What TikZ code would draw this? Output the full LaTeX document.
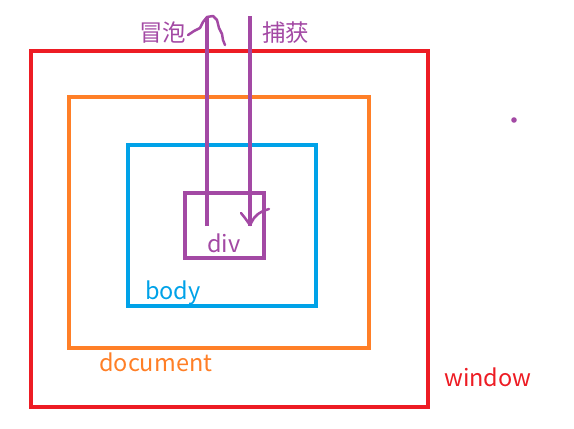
\documentclass[tikz,border=0pt]{standalone}
\usepackage{fontspec}
\setmainfont{Noto Sans CJK SC}
\definecolor{pred}{HTML}{ED1C24}
\definecolor{porange}{HTML}{FF7F27}
\definecolor{pblue}{HTML}{00A2E8}
\definecolor{ppurple}{HTML}{A349A4}
\begin{document}
\begin{tikzpicture}[x=1pt,y=-1pt,
  boxline/.style={line width=4pt},
  frame/.style={boxline, anchor=north west, inner sep=0pt, outer sep=0pt},
  lbl/.style={font=\fontsize{23.5}{26}\selectfont, inner sep=0pt, anchor=west},
  hand/.style={ppurple, line width=2.5pt, line cap=round, line join=round}]
\useasboundingbox (0,0) rectangle (574,429);
\node[draw=pred, frame, minimum width=397pt, minimum height=356pt] (win) at (31,51) {};
\node[draw=porange, frame, minimum width=300pt, minimum height=251pt] (doc) at (69,97) {};
\node[draw=pblue, frame, minimum width=188pt, minimum height=161pt] (body) at (128,145) {};
\node[draw=ppurple, frame, minimum width=79pt, minimum height=65pt] (div) at (185,193) {};
\node[lbl, text=pred] (twin) at (444,377) {window};
\node[lbl, text=porange] (tdoc) at (99,362) {document};
\node[lbl, text=pblue] (tbody) at (145,293) {body};
\node[lbl, text=ppurple] (tdiv) at (207,243) {div};
\node[lbl, text=ppurple] (tbub) at (139,33) {冒泡};
\node[lbl, text=ppurple] (tcap) at (262,33) {捕获};
\coordinate (bubtop) at (207,17);
\coordinate (bubbot) at (207,226);
\coordinate (captop) at (250,16);
\coordinate (capbot) at (250,226);
\draw[ppurple, boxline] (bubbot) -- (bubtop);
\draw[ppurple, boxline] (captop) -- (capbot);
\draw[hand] (188,35) -- (194,31) -- (200,28) -- (203,22) -- (207,17) -- (213,16) -- (217,20) -- (219,28) -- (222,34) -- (223,40) -- (225,45);
\draw[hand] (241,213) -- (245,218) -- (250,225) -- (254,218) -- (258,214) -- (263,211) -- (269,209);
\fill[ppurple] (514,120) circle (2.8pt);
\end{tikzpicture}
\end{document}
